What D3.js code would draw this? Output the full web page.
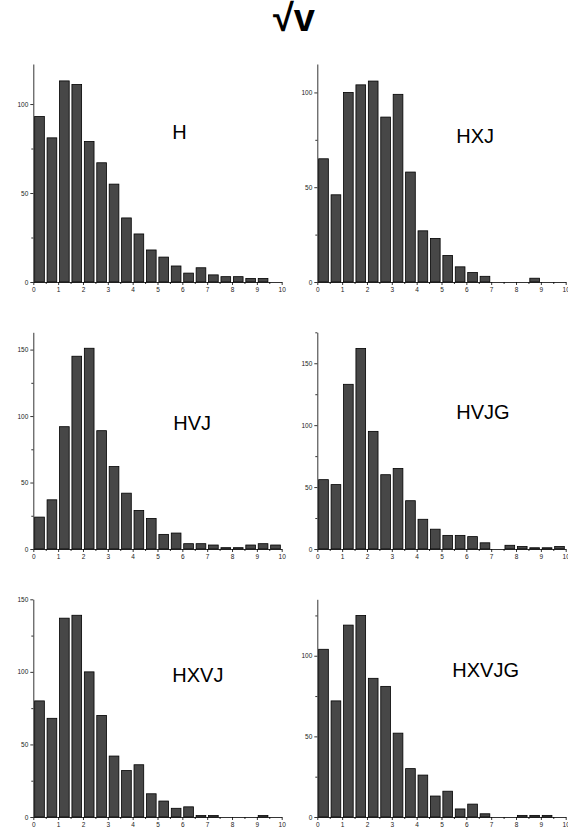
<html>
<script src="https://d3js.org/d3.v7.min.js"></script>
<style>
body {margin:0; background:#fff;}
text {font-family: Arial, "Liberation Sans", sans-serif;}
</style>
<body>
<svg width=568 height=834></svg>
<script>
// bin left edges (width 0.5)
var bins = [0,0.5,1,1.5,2,2.5,3,3.5,4,4.5,5,5.5,6,6.5,7,7.5,8,8.5,9,9.5];
var xTicks = [0,1,2,3,4,5,6,7,8,9,10];
var xMinor = [0.5,1.5,2.5,3.5,4.5,5.5,6.5,7.5,8.5,9.5];

var names = ["H","HXJ","HVJ","HVJG","HXVJ","HXVJG"];
var countsH     = [93,81,113,111,79,67,55,36,27,18,14,9,5,8,4,3,3,2,2,0];
var countsHXJ   = [65,46,100,104,106,87,99,58,27,23,14,8,5,3,0,0,0,2,0,0];
var countsHVJ   = [24,37,92,145,151,89,62,42,29,23,11,12,4,4,3,1,1,3,4,3];
var countsHVJG  = [56,52,133,162,95,60,65,39,24,16,11,11,10,5,0,3,2,1,1,2];
var countsHXVJ  = [80,68,137,139,100,70,42,32,36,16,11,6,7,1,1,0,0,0,1,0];
var countsHXVJG = [104,72,119,125,86,81,52,30,26,13,16,5,8,2,0,0,1,1,1,0];
var allCounts = [countsH,countsHXJ,countsHVJ,countsHVJG,countsHXVJ,countsHXVJG];
var yMax = [122.5,115,163,175,150,135];

var colX = [33.3, 317.3];
var rowY = [[64,282],[332.3,549],[599.3,817]];
var plotW = 248.4;
var labelOff = [[139,75],[139,79],[140,98],[139,87],[139,83],[135,78]];

var svg = d3.select("svg");

svg.append("text").attr("x",294).attr("y",31).attr("text-anchor","middle")
	.style("font-size","38px").style("font-weight","bold").text("\u221Av");

names.forEach(function(name,i){
	var x0 = colX[i%2], top = rowY[Math.floor(i/2)][0], base = rowY[Math.floor(i/2)][1];
	var x = d3.scaleLinear().domain([0,10]).range([x0, x0+plotW]);
	var y = d3.scaleLinear().domain([0,yMax[i]]).range([base, top]);
	var g = svg.append("g");
	var bw = x(0.5)-x(0);

	g.selectAll("rect").data(bins.map((b,j)=>({b:b,c:allCounts[i][j]})).filter(d=>d.c>0))
		.enter().append("rect")
		.attr("x", d=>x(d.b)+bw*0.11)
		.attr("y", d=>y(d.c))
		.attr("width", bw*0.78)
		.attr("height", d=>base-y(d.c))
		.attr("fill","#474747").attr("stroke","#000").attr("stroke-width",0.8);

	// x axis
	g.append("g").attr("transform","translate(0,"+base+")")
		.call(d3.axisBottom(x).tickValues(xTicks).tickSize(3).tickSizeOuter(0).tickPadding(2));
	g.append("g").attr("transform","translate(0,"+base+")")
		.call(d3.axisBottom(x).tickValues(xMinor).tickSize(2).tickSizeOuter(0).tickFormat(""))
		.select(".domain").remove();
	// y axis
	var major = d3.range(0, yMax[i]+0.01, 50);
	var minor = d3.range(25, yMax[i]+0.01, 50);
	g.append("g").attr("transform","translate("+x0+",0)")
		.call(d3.axisLeft(y).tickValues(major).tickSize(3).tickSizeOuter(0).tickPadding(2));
	g.append("g").attr("transform","translate("+x0+",0)")
		.call(d3.axisLeft(y).tickValues(minor).tickSize(2).tickSizeOuter(0).tickFormat(""))
		.select(".domain").remove();

	g.selectAll(".tick text").style("font-size","6.5px").attr("fill","#222")
		.style("font-family","Arial, 'Liberation Sans', sans-serif");
	g.selectAll(".domain, .tick line").attr("stroke","#000").attr("stroke-width",0.8);

	g.append("text").attr("x", x0+labelOff[i][0]).attr("y", top+labelOff[i][1])
		.style("font-size","20px").text(name);
});
</script>
</body>
</html>
